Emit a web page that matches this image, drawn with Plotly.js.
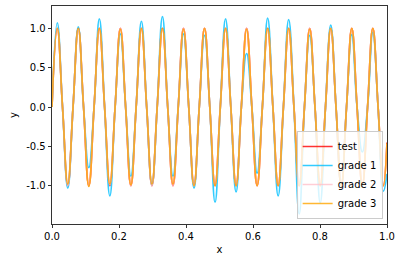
<!DOCTYPE html>
<html>
<head>
<meta charset="utf-8">
<script src="https://cdn.plot.ly/plotly-3.0.1.min.js"></script>
<style>html,body{margin:0;padding:0;background:#fff;}#chart{width:402px;height:262px;}</style>
</head>
<body>
<div id="chart"></div>
<script>
// sample positions (quarter-period points) + right edge
const xVals = [0, 0.0157, 0.0314, 0.0471, 0.0628, 0.0785, 0.0942, 0.1099, 0.1256, 0.1413,
  0.157, 0.1727, 0.1884, 0.2041, 0.2198, 0.2355, 0.2512, 0.2669, 0.2826, 0.2983,
  0.314, 0.3297, 0.3454, 0.3611, 0.3768, 0.3925, 0.4082, 0.4239, 0.4396, 0.4553,
  0.471, 0.4867, 0.5024, 0.5181, 0.5338, 0.5495, 0.5652, 0.5809, 0.5966, 0.6123,
  0.628, 0.6437, 0.6594, 0.6751, 0.6908, 0.7065, 0.7222, 0.7379, 0.7536, 0.7693,
  0.785, 0.8007, 0.8164, 0.8321, 0.8478, 0.8635, 0.8792, 0.8949, 0.9106, 0.9263,
  0.942, 0.9577, 0.9734, 0.9891, 1.0];

const testY = [0, 1, 0, -1, 0, 1, 0, -1, 0, 1, 0, -1, 0, 1, 0, -1,
  0, 1, 0, -1, 0, 1, 0, -1, 0, 1, 0, -1, 0, 1, 0, -1,
  0, 1, 0, -1, 0, 1, 0, -1, 0, 1, 0, -1, 0, 1, 0, -1,
  0, 1, 0, -1, 0, 1, 0, -1, 0, 1, 0, -1, 0, 1, 0, -1, -0.45];

const grade1Y = [0, 1.07, 0, -1.03, 0, 1.02, 0, -0.77, 0, 1.12, 0, -1.13, 0, 0.93, 0, -0.88,
  0, 1.09, 0, -0.99, 0, 1.15, 0, -0.88, 0, 0.93, 0, -1.03, 0, 0.91, 0, -1.21,
  0, 1.12, 0, -1.08, 0, 0.68, 0, -0.84, 0, 1.13, 0, -1.13, 0, 1.11, 0, -1.36,
  0, 0.91, 0, -1.22, 0, 1.04, 0, -1.0, 0, 0.92, 0, -0.57, 0, 0.95, 0, -1.07, -0.85];

const grade2Y = [0, 1.0, 0, -1.0, 0, 0.99, 0, -1.0, 0, 1.0, 0, -0.99, 0, 1.0, 0, -1.0,
  0, 1.0, 0, -1.0, 0, 0.99, 0, -1.0, 0, 1.0, 0, -1.0, 0, 1.0, 0, -1.0,
  0, 1.0, 0, -1.0, 0, 1.0, 0, -1.0, 0, 0.99, 0, -1.0, 0, 1.0, 0, -1.0,
  0, 1.0, 0, -1.0, 0, 1.0, 0, -1.0, 0, 1.0, 0, -0.99, 0, 1.0, 0, -1.0, -0.47];

const grade3Y = [0, 1.0, 0, -0.98, 0, 1.0, 0, -1.01, 0, 1.0, 0, -0.98, 0, 0.99, 0, -0.99,
  0, 1.0, 0, -0.98, 0, 1.0, 0, -0.98, 0, 0.99, 0, -1.0, 0, 1.0, 0, -1.0,
  0, 1.0, 0, -1.0, 0, 0.99, 0, -1.0, 0, 1.0, 0, -1.0, 0, 1.0, 0, -1.0,
  0, 0.99, 0, -1.0, 0, 1.0, 0, -1.0, 0, 1.0, 0, -1.0, 0, 1.0, 0, -1.0, -0.46];

const seriesNames = ['test', 'grade 1', 'grade 2', 'grade 3'];
const seriesColors = ['rgba(255,0,0,0.8)', 'rgba(0,191,255,0.8)', 'rgba(255,192,203,0.8)', 'rgba(255,165,0,0.8)'];
const xTicks = [0, 0.2, 0.4, 0.6, 0.8, 1.0];
const yTicks = [-1.0, -0.5, 0.0, 0.5, 1.0];

const ys = [testY, grade1Y, grade2Y, grade3Y];
const traces = ys.map((y, i) => ({
  x: xVals, y: y, type: 'scatter', mode: 'lines', name: seriesNames[i],
  line: {color: seriesColors[i], width: 1.7, shape: 'spline', smoothing: 1.3}
}));

const font = {family: 'DejaVu Sans', size: 10, color: '#000'};
const layout = {
  width: 402, height: 262,
  margin: {l: 52, r: 15, t: 6, b: 38, pad: 0},
  paper_bgcolor: '#fff', plot_bgcolor: '#fff',
  font: font,
  showlegend: true,
  legend: {
    x: 0.987, y: 0.023, xanchor: 'right', yanchor: 'bottom',
    bgcolor: 'rgba(255,255,255,0.8)', bordercolor: '#cccccc', borderwidth: 1,
    font: font, tracegroupgap: 0, itemwidth: 30
  },
  xaxis: {
    range: [0, 1], tickvals: xTicks, ticktext: xTicks.map(v => v.toFixed(1)),
    showgrid: false, zeroline: false, showline: true, mirror: true,
    linecolor: '#000', linewidth: 0.8, ticks: 'outside', ticklen: 3.5, tickwidth: 0.8,
    tickcolor: '#000', tickfont: font,
    title: {text: 'x', font: font, standoff: 4}
  },
  yaxis: {
    range: [-1.487, 1.284], tickvals: yTicks, ticktext: yTicks.map(v => v.toFixed(1)),
    showgrid: false, zeroline: false, showline: true, mirror: true,
    linecolor: '#000', linewidth: 0.8, ticks: 'outside', ticklen: 3.5, tickwidth: 0.8,
    tickcolor: '#000', tickfont: font,
    title: {text: 'y', font: font, standoff: 6}
  }
};

Plotly.newPlot('chart', traces, layout, {staticPlot: true, displayModeBar: false});
</script>
</body>
</html>
